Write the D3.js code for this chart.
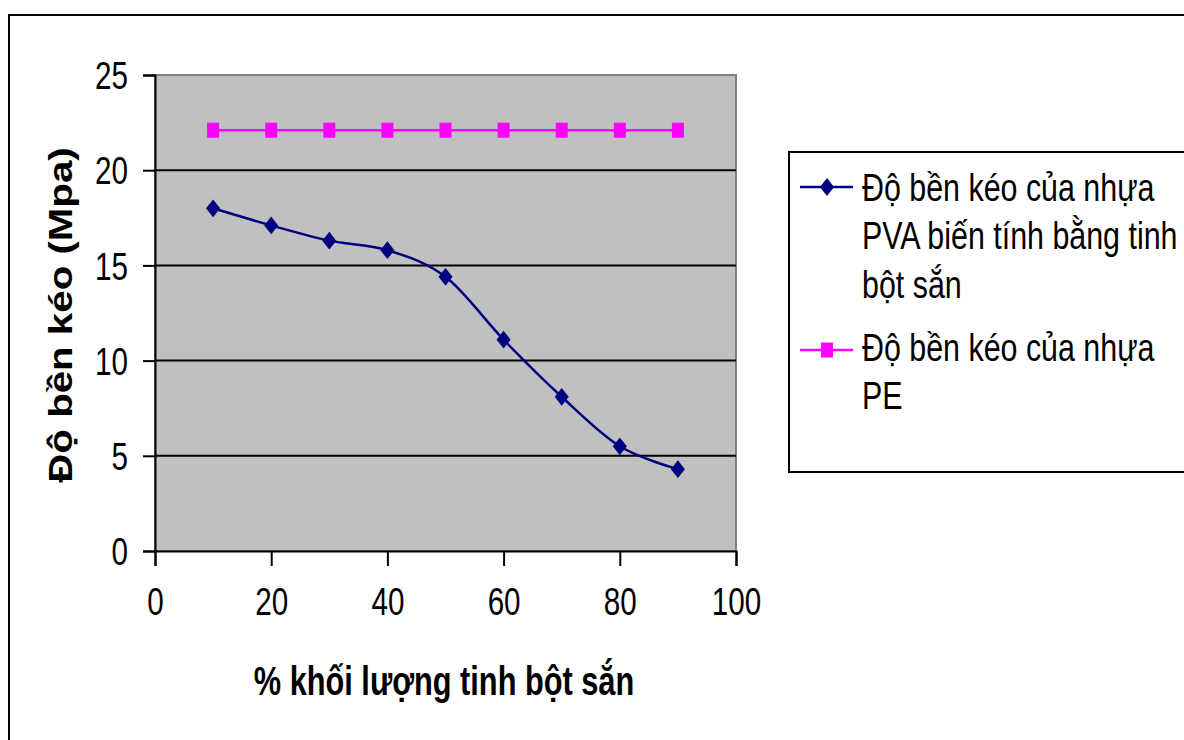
<!DOCTYPE html>
<html>
<head>
<meta charset="utf-8">
<script src="https://cdn.jsdelivr.net/npm/d3@7"></script>
<style>
body{margin:0;background:#fff;}
svg{display:block;font-family:"Liberation Sans",Arial,sans-serif;}
</style>
</head>
<body>
<script>
// data
const xValues=[10,20,30,40,50,60,70,80,90];
const pvaValues=[18,17.1,16.3,15.8,14.4,11.1,8.1,5.5,4.3];
const peValues=[22.1,22.1,22.1,22.1,22.1,22.1,22.1,22.1,22.1];
const xTicks=[0,20,40,60,80,100];
const yTicks=[0,5,10,15,20,25];
const seriesNames=["Độ bền kéo của nhựa PVA biến tính bằng tinh bột sắn","Độ bền kéo của nhựa PE"];
const legendLines=[["Độ bền kéo của nhựa","PVA biến tính bằng tinh","bột sắn"],["Độ bền kéo của nhựa","PE"]];
const xTitle="% khối lượng tinh bột sắn";
const yTitle="Độ bền kéo (Mpa)";

const W=1184,H=740;
const plot={left:155,top:75,right:736,bottom:551};
const pvaColor="#000080",peColor="#FF00FF";
const narrow=0.78; // condensed look of the original font

const svg=d3.select("body").append("svg").attr("width",W).attr("height",H);

//outer frame
svg.append("rect").attr("x",9).attr("y",15).attr("width",W+20).attr("height",H+20)
  .attr("fill","#fff").attr("stroke","#000").attr("stroke-width",2);

//scales
const x=d3.scaleLinear().domain([0,100]).range([plot.left,plot.right]);
const y=d3.scaleLinear().domain([0,25]).range([plot.bottom,plot.top]);

//plot area
svg.append("rect").attr("x",plot.left).attr("y",plot.top)
  .attr("width",plot.right-plot.left).attr("height",plot.bottom-plot.top)
  .attr("fill","#C0C0C0").attr("stroke","#808080").attr("stroke-width",2);

//gridlines
svg.append("g").selectAll("line").data(yTicks.filter(d=>d>0&&d<25)).enter().append("line")
  .attr("x1",plot.left).attr("x2",plot.right)
  .attr("y1",d=>y(d)).attr("y2",d=>y(d))
  .attr("stroke","#000").attr("stroke-width",2);

//axes
const yAxis=svg.append("g").attr("transform","translate("+plot.left+",0)")
  .call(d3.axisLeft(y).tickValues(yTicks).tickSize(12).tickPadding(16));
const xAxis=svg.append("g").attr("transform","translate(0,"+plot.bottom+")")
  .call(d3.axisBottom(x).tickValues(xTicks).tickSize(15).tickPadding(32));
[yAxis,xAxis].forEach(a=>{
  a.select(".domain").attr("stroke","#000").attr("stroke-width",2);
  a.selectAll(".tick line").attr("stroke","#000").attr("stroke-width",2);
  a.selectAll(".tick text").attr("fill","#000").style("font-size","38px");
});
yAxis.selectAll(".tick text").attr("x",0).attr("dy","0.36em")
  .attr("transform","translate(-27,0) scale("+narrow+",1)");
xAxis.selectAll(".tick text").attr("dy","0.45em")
  .attr("transform","scale("+narrow+",1)");

//lines
const line=d3.line().x((d,i)=>x(xValues[i])).y(d=>y(d));
svg.append("path").datum(pvaValues).attr("d",line.curve(d3.curveCatmullRom.alpha(0)))
  .attr("fill","none").attr("stroke",pvaColor).attr("stroke-width",2.5);
svg.append("path").datum(peValues).attr("d",line.curve(d3.curveLinear))
  .attr("fill","none").attr("stroke",peColor).attr("stroke-width",2.5);

const diamond=d3.symbol().type(d3.symbolDiamond2).size(140);
svg.append("g").selectAll("path").data(pvaValues).enter().append("path")
  .attr("d",diamond)
  .attr("transform",(d,i)=>"translate("+x(xValues[i])+","+y(d)+") scale(0.95,1.2)")
  .attr("fill",pvaColor);
svg.append("g").selectAll("rect").data(peValues).enter().append("rect")
  .attr("x",(d,i)=>x(xValues[i])-6).attr("y",d=>y(d)-7.5)
  .attr("width",12).attr("height",15).attr("fill",peColor);

//axis titles
svg.append("text").attr("transform","translate(444,695) scale(0.75,1)").attr("text-anchor","middle")
  .style("font-size","41px").style("font-weight","bold").text(xTitle);
svg.append("text").attr("transform","translate(72,315) rotate(-90) scale(1.22,1)").attr("text-anchor","middle")
  .style("font-size","33px").style("font-weight","bold").text(yTitle);

//legend
svg.append("rect").attr("x",789).attr("y",152).attr("width",420).attr("height",320)
  .attr("fill","#fff").attr("stroke","#000").attr("stroke-width",2);
const legendItems=[{color:pvaColor,shape:"diamond",y:187,base:201},{color:peColor,shape:"square",y:350,base:361}];
legendItems.forEach((it,k)=>{
  const g=svg.append("g");
  g.append("line").attr("x1",800).attr("x2",853).attr("y1",it.y).attr("y2",it.y)
    .attr("stroke",it.color).attr("stroke-width",2.5);
  if(it.shape==="diamond"){
    g.append("path").attr("d",diamond)
      .attr("transform","translate(827,"+it.y+") scale(0.95,1.2)").attr("fill",it.color);
  }else{
    g.append("rect").attr("x",821).attr("y",it.y-7.5).attr("width",12).attr("height",15).attr("fill",it.color);
  }
  const t=g.append("text").attr("transform","translate(862,0) scale(0.8,1)")
    .style("font-size","38px").attr("fill","#000");
  t.append("title").text(seriesNames[k]);
  legendLines[k].forEach((s,j)=>{
    t.append("tspan").attr("x",0).attr("y",it.base+j*48.5).text(s);
  });
});
</script>
</body>
</html>
